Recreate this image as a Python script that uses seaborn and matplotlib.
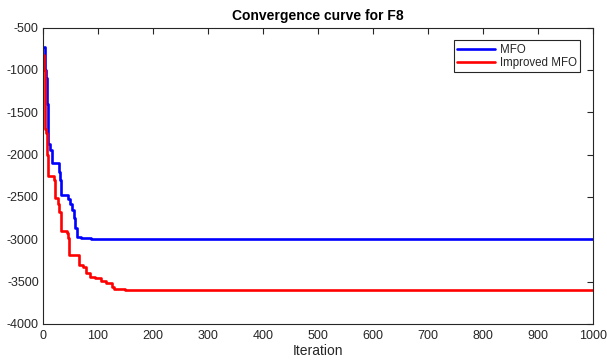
import numpy as np
import pandas as pd
import matplotlib
matplotlib.use("Agg")
import matplotlib.pyplot as plt
import seaborn as sns

# Convergence breakpoints (iteration, best fitness) for each optimiser
mfo_iter = [1, 3, 4, 6, 7, 9, 10, 13, 16, 28, 29, 31, 33, 45, 50, 53, 56, 59, 62, 70, 80, 88, 1000]
mfo_fit = [-730, -800, -1000, -1100, -1400, -1600, -1870, -1950, -2100, -2100, -2200, -2300,
           -2480, -2520, -2580, -2650, -2750, -2870, -2970, -2980, -2990, -3000, -3000]

imfo_iter = [1, 2, 3, 4, 6, 8, 9, 20, 21, 27, 30, 33, 43, 46, 48, 63, 65, 72, 78, 85, 95,
             105, 115, 125, 130, 150, 1000]
imfo_fit = [-820, -1000, -1200, -1700, -1750, -2000, -2250, -2300, -2510, -2580, -2680, -2900,
            -2920, -2980, -3180, -3190, -3300, -3330, -3400, -3440, -3460, -3490, -3520,
            -3560, -3590, -3600, -3600]

series_names = ["MFO", "Improved MFO"]
x_ticks = list(range(0, 1001, 100))
y_ticks = list(range(-4000, -499, 500))

df = pd.concat([
    pd.DataFrame({"Iteration": mfo_iter, "Fitness": mfo_fit, "Algorithm": series_names[0]}),
    pd.DataFrame({"Iteration": imfo_iter, "Fitness": imfo_fit, "Algorithm": series_names[1]}),
], ignore_index=True)

sns.set_style("white")
plt.rcParams["font.family"] = ["Liberation Sans", "DejaVu Sans"]
plt.rcParams["axes.unicode_minus"] = False

dark = (0.15, 0.15, 0.15)

fig = plt.figure(figsize=(6.07, 3.64), dpi=100)
ax = fig.add_axes([0.0708, 0.110, 0.9062, 0.814])

sns.lineplot(data=df, x="Iteration", y="Fitness", hue="Algorithm",
             palette={"MFO": "#0000ff", "Improved MFO": "#ff0000"},
             estimator=None, drawstyle="steps-post", linewidth=1.9, ax=ax)

ax.set_xlim(0, 1000)
ax.set_ylim(-4000, -500)
ax.set_xticks(x_ticks)
ax.set_yticks(y_ticks)
ax.set_xticklabels([str(v) for v in x_ticks])
ax.set_yticklabels([str(v) for v in y_ticks])
ax.tick_params(direction="in", top=True, right=True, length=4, width=0.8,
               labelsize=9, colors=dark, labelcolor=dark)
ax.tick_params(axis="x", pad=4.5)
ax.tick_params(axis="y", pad=3)
for s in ax.spines.values():
    s.set_visible(True)
    s.set_color(dark)
    s.set_linewidth(0.8)

ax.set_xlabel("Iteration", fontsize=10, color=dark, labelpad=1)
ax.set_ylabel("")
ax.set_title("Convergence curve for F8", fontsize=10, fontweight="bold", color="black", pad=5.5)

leg = ax.legend(loc="upper right", fontsize=8.3, frameon=True, fancybox=False,
                framealpha=1, edgecolor=dark, handlelength=3.3, borderaxespad=1.1,
                borderpad=0.3, labelspacing=0.1, handletextpad=0.4)
leg.get_frame().set_linewidth(0.8)
for t in leg.get_texts():
    t.set_color(dark)

fig.savefig("out.png", dpi=100)
